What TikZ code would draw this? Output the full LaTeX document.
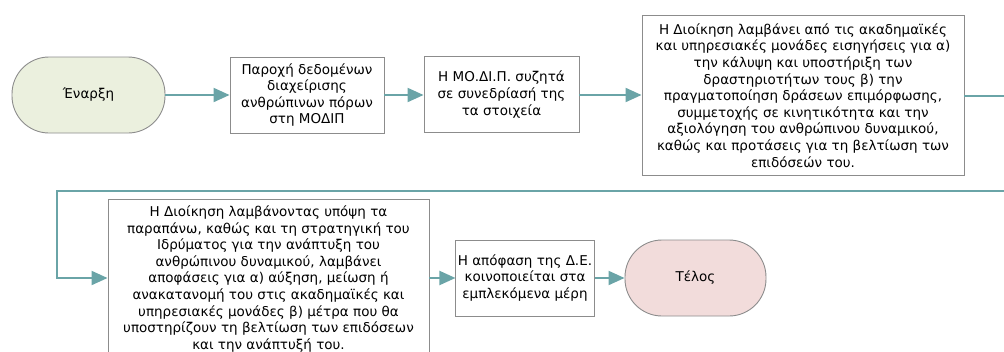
\documentclass[tikz,border=0pt]{standalone}
\usepackage{fontspec}
\setmainfont{DejaVu Sans}
\usetikzlibrary{arrows.meta}
\definecolor{flowteal}{RGB}{106,164,167}
\definecolor{startgreen}{RGB}{235,240,222}
\definecolor{endpink}{RGB}{242,220,219}
\definecolor{edgegray}{RGB}{140,140,140}
\begin{document}
\begin{tikzpicture}[x=1pt, y=-1pt,
    font=\fontsize{13.5}{16.6}\selectfont,
    task/.style={rectangle, draw=edgegray, fill=white, line width=0.9pt, align=center, inner sep=2pt},
    terminal/.style={rectangle, rounded corners=37pt, draw=edgegray, line width=0.9pt, minimum height=76pt},
    flow/.style={draw=flowteal, line width=2pt, -{Triangle[length=16pt,width=14pt]}}]
    \useasboundingbox (0,0) rectangle (1004,351);
    \clip (0,0) rectangle (1004,351);

    % first row
    \node[terminal, fill=startgreen, minimum width=153pt] (start) at (88.5,95) {Έναρξη};
    \node[task, minimum width=154pt, minimum height=76pt] (data) at (307,95)
      {Παροχή δεδομένων\\διαχείρισης\\ανθρώπινων πόρων\\στη ΜΟΔΙΠ};
    \node[task, minimum width=155pt, minimum height=76pt] (modip) at (501.5,94.5)
      {Η ΜΟ.ΔΙ.Π. συζητά\\σε συνεδρίασή της\\τα στοιχεία};
    \node[task, minimum width=322pt, minimum height=160pt] (proposals) at (803,95.5)
      {Η Διοίκηση λαμβάνει από τις ακαδημαϊκές\\
       και υπηρεσιακές μονάδες εισηγήσεις για α)\\
       την κάλυψη και υποστήριξη των\\
       δραστηριοτήτων τους β) την\\
       πραγματοποίηση δράσεων επιμόρφωσης,\\
       συμμετοχής σε κινητικότητα και την\\
       αξιολόγηση του ανθρώπινου δυναμικού,\\
       καθώς και προτάσεις για τη βελτίωση των\\
       επιδόσεών του.};

    % second row
    \node[task, minimum width=321pt, minimum height=160pt] (decision) at (268.5,279)
      {Η Διοίκηση λαμβάνοντας υπόψη τα\\
       παραπάνω, καθώς και τη στρατηγική του\\
       Ιδρύματος για την ανάπτυξη του\\
       ανθρώπινου δυναμικού, λαμβάνει\\
       αποφάσεις για α) αύξηση, μείωση ή\\
       ανακατανομή του στις ακαδημαϊκές και\\
       υπηρεσιακές μονάδες β) μέτρα που θα\\
       υποστηρίζουν τη βελτίωση των επιδόσεων\\
       και την ανάπτυξή του.};
    \node[task, minimum width=138pt, minimum height=76pt] (notify) at (525,278)
      {Η απόφαση της Δ.Ε.\\κοινοποιείται στα\\εμπλεκόμενα μέρη};
    \node[terminal, fill=endpink, minimum width=141pt] (end) at (695.5,278) {Τέλος};

    \coordinate (out) at (1004,96);
    \coordinate (back) at (1004,191);
    \coordinate (turn) at (57,191);

    \draw[flow] (start) -- (data);
    \draw[flow] (data) -- (modip.west |- data.east);
    \draw[flow] (modip.east |- data.east) -- (proposals.west |- data.east);
    \draw[draw=flowteal, line width=2pt] (proposals.east |- out) -- (out);
    \draw[flow] (back) -- (turn) |- (decision.west |- notify.west);
    \draw[flow] (decision.east |- notify.west) -- (notify);
    \draw[flow] (notify) -- (end);
  \end{tikzpicture}
\end{document}
